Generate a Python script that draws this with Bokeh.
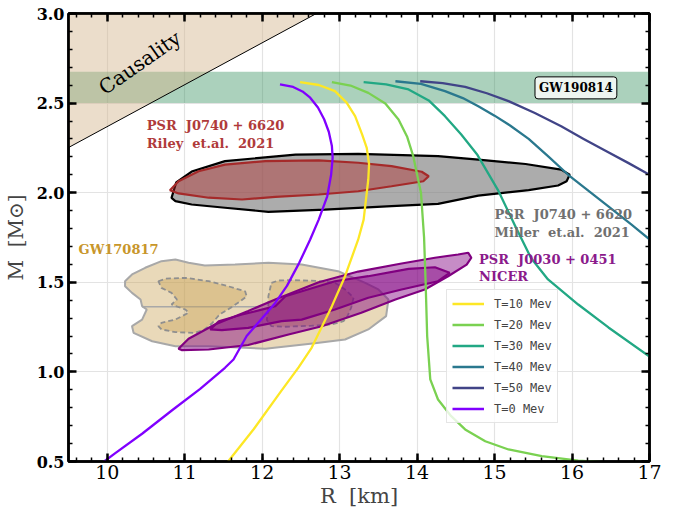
import math
from bokeh.plotting import figure
from bokeh.models import (FixedTicker, LinearAxis, Range1d, BoxAnnotation, Label,
                          Legend, LegendItem)
from bokeh.embed import file_html
from bokeh.resources import INLINE
from bokeh.core.properties import value

# ---------------- data ----------------
x_ticks = [10, 11, 12, 13, 14, 15, 16, 17]
x_tick_labels = ["10", "11", "12", "13", "14", "15", "16", "17"]
x_minor = [round(9.6 + 0.2 * i, 1) for i in range(38)]
y_ticks = [0.5, 1.0, 1.5, 2.0, 2.5, 3.0]
y_tick_labels = ["0.5", "1.0", "1.5", "2.0", "2.5", "3.0"]
y_minor = [round(0.5 + 0.1 * i, 1) for i in range(26)]

# Mass-radius curves
R_T0 = [12.23, 12.40, 12.52, 12.62, 12.72, 12.80, 12.86, 12.90, 12.91, 12.89, 12.84, 12.73, 12.62, 12.48, 12.32, 12.16, 11.98, 11.80, 11.63, 11.52, 11.20, 10.85, 10.45, 10.10, 9.96, 9.90]
M_T0 = [2.604, 2.590, 2.565, 2.530, 2.475, 2.410, 2.340, 2.260, 2.196, 2.10, 1.98, 1.85, 1.739, 1.61, 1.48, 1.38, 1.29, 1.20, 1.069, 1.023, 0.905, 0.79, 0.655, 0.545, 0.50, 0.48]
R_T10 = [12.49, 12.73, 12.94, 13.09, 13.20, 13.29, 13.35, 13.38, 13.37, 13.31, 13.24, 13.07, 12.90, 12.64, 12.47, 12.24, 11.89, 11.56, 11.52]
M_T10 = [2.617, 2.601, 2.567, 2.503, 2.427, 2.325, 2.250, 2.16, 2.074, 1.85, 1.739, 1.534, 1.367, 1.136, 1.025, 0.89, 0.68, 0.50, 0.48]
R_T20 = [12.90, 13.14, 13.37, 13.59, 13.76, 13.87, 13.95, 14.05, 14.09, 14.11, 14.13, 14.17, 14.27, 14.44, 14.62, 14.88, 15.18, 15.61, 16.08, 16.40]
M_T20 = [2.617, 2.598, 2.557, 2.498, 2.408, 2.314, 2.204, 2.0, 1.75, 1.5, 1.2, 0.958, 0.846, 0.753, 0.679, 0.613, 0.567, 0.53, 0.505, 0.497]
R_T30 = [13.31, 13.60, 13.89, 14.15, 14.36, 14.57, 14.78, 15.05, 15.26, 15.47, 15.69, 16.08, 16.47, 17.0]
M_T30 = [2.617, 2.604, 2.576, 2.515, 2.427, 2.325, 2.21, 2.01, 1.82, 1.636, 1.516, 1.376, 1.248, 1.086]
R_T40 = [13.72, 14.05, 14.36, 14.59, 14.79, 15.0, 15.2, 15.44, 15.70, 15.95, 16.23, 16.51, 16.76, 17.0]
M_T40 = [2.622, 2.607, 2.567, 2.528, 2.483, 2.43, 2.375, 2.30, 2.20, 2.10, 2.005, 1.91, 1.825, 1.74]
R_T50 = [14.04, 14.33, 14.62, 14.90, 15.18, 15.52, 15.86, 16.15, 16.45, 16.73, 17.0]
M_T50 = [2.622, 2.612, 2.591, 2.555, 2.511, 2.445, 2.371, 2.30, 2.23, 2.165, 2.10]

# Causality limit
causal_R = [9.5, 12.70]
causal_M = [2.252, 3.0]

# GW190814 band
gw190814_M = [2.50, 2.675]

# PSR J0740+6620 Miller et al. 2021
miller_R = [10.83, 10.89, 11.09, 11.52, 12.43, 13.24, 14.27, 14.79, 15.40, 15.86, 15.97, 15.93, 15.82, 15.44, 14.79, 14.27, 13.67, 12.81, 12.08, 11.52, 11.09, 10.88]
miller_M = [1.971, 2.057, 2.118, 2.176, 2.213, 2.217, 2.204, 2.185, 2.160, 2.129, 2.100, 2.064, 2.040, 2.014, 1.984, 1.938, 1.925, 1.906, 1.893, 1.916, 1.934, 1.953]
# PSR J0740+6620 Riley et al. 2021
riley_R = [10.81, 10.92, 11.18, 11.52, 12.04, 12.73, 13.24, 13.67, 14.06, 14.15, 14.08, 13.67, 13.24, 12.73, 12.17, 11.74, 11.31, 10.92]
riley_M = [2.014, 2.064, 2.12, 2.157, 2.176, 2.18, 2.167, 2.148, 2.117, 2.092, 2.064, 2.036, 2.008, 1.99, 1.977, 1.962, 1.972, 1.996]

# GW170817
gw_out_R = [10.23, 10.32, 10.49, 10.70, 10.88, 11.05, 11.26, 11.65, 12.08, 12.51, 12.98, 13.33, 13.50, 13.63, 13.60, 13.37, 13.07, 12.68, 12.04, 11.31, 10.88, 10.58, 10.34, 10.32, 10.45, 10.51, 10.45, 10.43, 10.32, 10.23]
gw_out_M = [1.506, 1.544, 1.581, 1.618, 1.627, 1.609, 1.594, 1.599, 1.609, 1.599, 1.562, 1.497, 1.46, 1.404, 1.311, 1.237, 1.181, 1.160, 1.129, 1.143, 1.143, 1.171, 1.218, 1.255, 1.292, 1.348, 1.367, 1.404, 1.441, 1.478]
gw_seam_R = [10.45, 11.95]
gw_seam_M = [1.363, 1.363]
gw_in1_R = [10.66, 10.75, 11.01, 11.31, 11.56, 11.78, 11.80, 11.72, 11.60, 11.45, 11.35, 11.25, 11.13, 10.88, 10.70, 10.66, 10.70, 10.88, 11.05, 11.01, 10.83, 10.90, 10.83, 10.70]
gw_in1_M = [1.506, 1.52, 1.525, 1.506, 1.478, 1.45, 1.422, 1.395, 1.36, 1.32, 1.27, 1.235, 1.218, 1.222, 1.237, 1.255, 1.274, 1.292, 1.33, 1.348, 1.376, 1.404, 1.441, 1.469]
gw_in2_R = [12.12, 12.21, 12.38, 12.70, 12.94, 13.07, 13.18, 13.15, 13.10, 13.05, 12.90, 12.64, 12.30, 12.12, 12.06, 12.08, 12.08, 12.10]
gw_in2_M = [1.497, 1.51, 1.512, 1.508, 1.497, 1.46, 1.414, 1.36, 1.31, 1.283, 1.265, 1.258, 1.252, 1.255, 1.29, 1.36, 1.422, 1.46]

# NICER PSR J0030+0451
nicer_out_R = [10.92, 11.05, 11.39, 11.82, 12.20, 12.73, 13.24, 13.80, 14.23, 14.53, 14.66, 14.70, 14.64, 14.40, 14.10, 13.72, 13.28, 12.77, 12.34, 11.82, 11.31, 10.96]
nicer_out_M = [1.129, 1.185, 1.265, 1.34, 1.41, 1.50, 1.56, 1.605, 1.637, 1.655, 1.665, 1.637, 1.599, 1.534, 1.46, 1.404, 1.33, 1.255, 1.209, 1.15, 1.125, 1.122]
nicer_in_R = [11.33, 11.44, 11.74, 12.17, 12.30, 12.94, 13.37, 13.89, 14.23, 14.42, 14.27, 13.80, 13.37, 12.94, 12.51, 12.25, 11.82, 11.48]
nicer_in_M = [1.237, 1.283, 1.32, 1.367, 1.422, 1.506, 1.534, 1.575, 1.584, 1.553, 1.506, 1.46, 1.414, 1.348, 1.292, 1.283, 1.246, 1.233]

legend_labels = ["T=10 Mev", "T=20 Mev", "T=30 Mev", "T=40 Mev", "T=50 Mev", "T=0 Mev"]

NB = "\u00a0"

# ---------------- figure ----------------
SERIF = "DejaVu Serif"
p = figure(frame_width=581, frame_height=448,
           x_range=Range1d(9.5, 17), y_range=Range1d(0.5, 3.0),
           output_backend="svg", toolbar_location=None,
           min_border_left=67, min_border_right=20, min_border_top=13, min_border_bottom=43)
p.background_fill_color = "white"
p.border_fill_color = "white"
p.outline_line_color = "black"
p.outline_line_width = 2.5

xt = FixedTicker(ticks=x_ticks, minor_ticks=x_minor)
yt = FixedTicker(ticks=y_ticks, minor_ticks=y_minor)

p.xgrid.ticker = xt
p.ygrid.ticker = yt
p.xgrid.grid_line_color = "#e3e3e3"
p.ygrid.grid_line_color = "#e3e3e3"
p.xgrid.grid_line_width = 1.2
p.ygrid.grid_line_width = 1.2


def style_axis(ax, ticker, labels, show_labels, bold):
    ax.ticker = ticker
    ax.axis_line_width = 2.5
    ax.major_tick_in = 8
    ax.major_tick_out = 0
    ax.minor_tick_in = 4
    ax.minor_tick_out = 0
    ax.major_tick_line_width = 2.5
    ax.minor_tick_line_width = 1.5
    ax.major_label_text_font = SERIF
    ax.major_label_text_color = "black"
    if bold:
        ax.major_label_text_font_style = "bold"
    if show_labels:
        ax.major_label_overrides = {t: l for t, l in zip(ticker.ticks, labels)}
    else:
        ax.major_label_overrides = {t: "" for t in ticker.ticks}
        ax.major_label_standoff = 0


xb = p.xaxis[0]
yl = p.yaxis[0]
style_axis(xb, xt, x_tick_labels, True, False)
xb.major_label_text_font_size = "19px"
xb.major_label_standoff = 3
xb.axis_label = "R" + NB + NB + "[km]"
xb.axis_label_text_font = SERIF
xb.axis_label_text_font_style = "normal"
xb.axis_label_text_font_size = "21px"
xb.axis_label_standoff = 2

style_axis(yl, yt, y_tick_labels, True, True)
yl.major_label_text_font_size = "16px"
yl.major_label_standoff = 4
yl.axis_label = "M" + NB + NB + "[M⊙]"
yl.axis_label_text_font = SERIF
yl.axis_label_text_font_style = "normal"
yl.axis_label_text_font_size = "20px"
yl.axis_label_standoff = 6

xa = LinearAxis()
style_axis(xa, xt, x_tick_labels, False, False)
p.add_layout(xa, "above")
yr = LinearAxis()
style_axis(yr, yt, y_tick_labels, False, False)
p.add_layout(yr, "right")

# GW190814 band
p.add_layout(BoxAnnotation(bottom=gw190814_M[0], top=gw190814_M[1],
                           fill_color="#2e8b57", fill_alpha=0.4, line_alpha=0,
                           level="underlay"))

# causality region
p.patch(x=causal_R + [causal_R[0]], y=causal_M + [causal_M[1]],
        fill_color="#d2b48c", fill_alpha=0.45, line_alpha=0)
p.line(x=causal_R, y=causal_M, line_color="black", line_width=1)

# GW170817
p.patch(x=gw_out_R, y=gw_out_M, fill_color="#c8a050", fill_alpha=0.4,
        line_color="#a8a8a8", line_width=2)
p.line(x=gw_seam_R, y=gw_seam_M, line_color="#a8a8a8", line_width=1.5)
for rr, mm in [(gw_in1_R, gw_in1_M), (gw_in2_R, gw_in2_M)]:
    p.patch(x=rr + [rr[0]], y=mm + [mm[0]], fill_color="#c8a050", fill_alpha=0.4,
            line_color="#8f8f8f", line_width=1.8, line_dash="5 3")

# Miller
p.patch(x=miller_R, y=miller_M, fill_color="#808080", fill_alpha=0.65,
        line_color="black", line_width=2.2)
# Riley
p.patch(x=riley_R, y=riley_M, fill_color="#b22222", fill_alpha=0.4,
        line_color="#a52a2a", line_width=2.2)
# NICER
p.patch(x=nicer_out_R, y=nicer_out_M, fill_color="#800080", fill_alpha=0.45,
        line_color="#800080", line_width=2.2)
p.patch(x=nicer_in_R, y=nicer_in_M, fill_color="#800080", fill_alpha=0.45,
        line_color="#800080", line_width=2.2)

# curves
curve_colors = ["#fde725", "#7ad151", "#22a884", "#2a788e", "#414487", "#8000ff"]
curves = [(R_T10, M_T10), (R_T20, M_T20), (R_T30, M_T30), (R_T40, M_T40), (R_T50, M_T50), (R_T0, M_T0)]
renderers = []
for (rr, mm), c in zip(curves, curve_colors):
    renderers.append(p.line(x=rr, y=mm, line_color=c, line_width=2.3, line_join="round"))

# text labels
p.text(x=[10.42], y=[2.725], text=["Causality"], angle=math.radians(35),
       text_font=value(SERIF), text_font_size="20px", text_color="black",
       text_align="center", text_baseline="middle")
lab_kw = dict(text_font=value(SERIF), text_font_size="13px", text_font_style="bold",
              text_align="left", text_baseline="middle")
psr1 = "PSR" + NB + NB + "J0740" + NB + "+" + NB + "6620"
p.text(x=[10.51, 10.51], y=[2.375, 2.275],
       text=[psr1, "Riley" + NB + NB + "et.al." + NB + NB + "2021"],
       text_color="#b03a3a", **lab_kw)
p.text(x=[15.0, 15.0], y=[1.878, 1.778],
       text=[psr1, "Miller" + NB + NB + "et.al." + NB + NB + "2021"],
       text_color="#707070", **lab_kw)
p.text(x=[14.80, 14.80], y=[1.627, 1.532],
       text=["PSR" + NB + NB + "J0030" + NB + "+" + NB + "0451", "NICER"],
       text_color="#8b1a8b", **lab_kw)
p.text(x=[9.63], y=[1.683], text=["GW170817"], text_color="#c8962a", **lab_kw)

p.add_layout(Label(x=16.05, y=2.585, text="GW190814", text_align="center",
                   text_baseline="middle", text_font=SERIF, text_font_size="12px",
                   text_font_style="bold", text_color="black",
                   background_fill_color="#eef5f0", background_fill_alpha=1.0,
                   border_line_color="black", border_line_width=1,
                   padding=4, border_radius=3))

legend = Legend(items=[LegendItem(label=l, renderers=[r]) for l, r in zip(legend_labels, renderers)],
                location=(378, 38))
legend.label_text_font = "DejaVu Sans Mono"
legend.label_text_font_size = "12px"
legend.label_height = 17
legend.glyph_height = 17
legend.glyph_width = 32
legend.spacing = 4
legend.padding = 5
legend.margin = 0
legend.label_standoff = 10
legend.background_fill_color = "white"
legend.background_fill_alpha = 0.8
legend.border_line_color = "#cccccc"
legend.border_line_width = 1
p.add_layout(legend)

open("out.html", "w").write(file_html(p, INLINE))
